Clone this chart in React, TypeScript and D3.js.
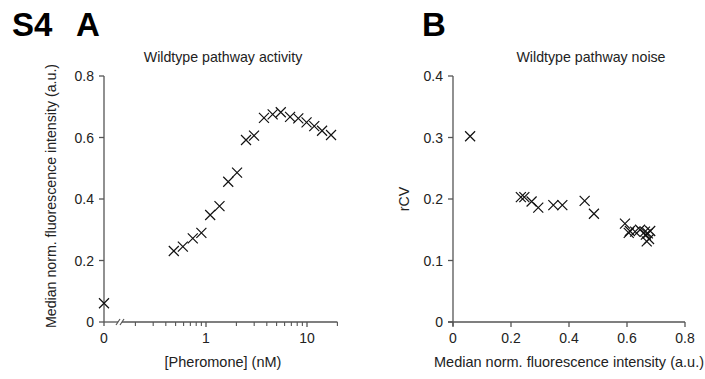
import React from "react";
import * as d3 from "d3";

// Panel A: wildtype pathway activity vs pheromone concentration
const zeroDoseActivity = 0.061;
const pheromoneNM = [0.48, 0.59, 0.74, 0.9, 1.1, 1.36, 1.66, 2.03, 2.49, 2.99, 3.75, 4.57, 5.5, 6.8, 8.2, 9.9, 11.8, 14.1, 17.3];
const activity = [0.231, 0.245, 0.272, 0.29, 0.348, 0.377, 0.456, 0.486, 0.592, 0.606, 0.664, 0.675, 0.682, 0.667, 0.662, 0.649, 0.637, 0.622, 0.608];
const yTicksA = [0, 0.2, 0.4, 0.6, 0.8];
const xMajorA = [1, 10];
const xMinorA = [0.2, 0.3, 0.4, 0.5, 0.6, 0.7, 0.8, 0.9, 2, 3, 4, 5, 6, 7, 8, 9, 20];

// Panel B: noise (rCV) vs activity
const activityB = [0.059, 0.234, 0.246, 0.271, 0.294, 0.346, 0.377, 0.454, 0.486, 0.593, 0.606, 0.61, 0.628, 0.645, 0.662, 0.665, 0.668, 0.672, 0.676, 0.68];
const rcvB = [0.302, 0.203, 0.203, 0.196, 0.186, 0.19, 0.19, 0.197, 0.176, 0.16, 0.145, 0.148, 0.147, 0.15, 0.147, 0.142, 0.131, 0.144, 0.135, 0.148];
const yTicksB = [0, 0.1, 0.2, 0.3, 0.4];
const xTicksB = [0, 0.2, 0.4, 0.6, 0.8];

const FONT = "'Liberation Sans', Arial, sans-serif";
const AXIS = "#555";
const TEXT = "#222";

function Cross({ x, y }: { x: number; y: number }) {
  const s = 5;
  return (
    <path
      d={`M${x - s},${y - s}L${x + s},${y + s}M${x - s},${y + s}L${x + s},${y - s}`}
      stroke="#111"
      strokeWidth={1.2}
      fill="none"
    />
  );
}

export default function App() {
  // Panel A scales
  const yA = d3.scaleLinear().domain([0, 0.8]).range([322, 76]);
  const xLog = d3.scaleLog().domain([1, 10]).range([206, 307]);
  const x0A = 104;
  const xEndA = xLog(20);
  const breakX = 120;

  // Panel B scales
  const xB = d3.scaleLinear().domain([0, 0.8]).range([453, 685]);
  const yB = d3.scaleLinear().domain([0, 0.4]).range([322, 76]);

  return (
    <svg
      width={705}
      height={379}
      style={{ position: "absolute", left: 0, top: 0, background: "#fff" }}
      fontFamily={FONT}
    >
      <rect width={705} height={379} fill="#fff" />
      {/* Panel labels */}
      <text x={12} y={36} fontSize={33} fontWeight="bold" fill="#000">S4</text>
      <text x={76} y={36} fontSize={33} fontWeight="bold" fill="#000">A</text>
      <text x={422} y={36} fontSize={33} fontWeight="bold" fill="#000">B</text>

      {/* ===== Panel A ===== */}
      <text x={223} y={62} fontSize={14.2} textAnchor="middle" fill={TEXT}>Wildtype pathway activity</text>
      {/* y axis */}
      <line x1={x0A} x2={x0A} y1={yA(0.8)} y2={yA(0) + 4} stroke={AXIS} strokeWidth={1.3} />
      {yTicksA.map((t) => (
        <g key={"ya" + t}>
          <line x1={x0A - 5} x2={x0A} y1={yA(t)} y2={yA(t)} stroke={AXIS} strokeWidth={1.3} />
          <text x={x0A - 10} y={yA(t) + 5} fontSize={14} textAnchor="end" fill={TEXT}>{t === 0 ? "0" : t.toFixed(1)}</text>
        </g>
      ))}
      <text
        transform={`translate(56,${(yA(0) + yA(0.8)) / 2 - 3}) rotate(-90)`}
        fontSize={14.2}
        textAnchor="middle"
        fill={TEXT}
      >
        Median norm. fluorescence intensity (a.u.)
      </text>
      {/* x axis with break */}
      <line x1={x0A} x2={breakX - 2} y1={yA(0)} y2={yA(0)} stroke={AXIS} strokeWidth={1.3} />
      <line x1={breakX + 2} x2={xEndA} y1={yA(0)} y2={yA(0)} stroke={AXIS} strokeWidth={1.3} />
      <line x1={breakX - 4} x2={breakX} y1={yA(0) + 3} y2={yA(0) - 3} stroke={AXIS} strokeWidth={1.2} />
      <line x1={breakX} x2={breakX + 4} y1={yA(0) + 3} y2={yA(0) - 3} stroke={AXIS} strokeWidth={1.2} />
      {xMajorA.map((t) => (
        <g key={"xa" + t}>
          <line x1={xLog(t)} x2={xLog(t)} y1={yA(0)} y2={yA(0) + 5} stroke={AXIS} strokeWidth={1.3} />
          <text x={xLog(t)} y={343} fontSize={14} textAnchor="middle" fill={TEXT}>{t}</text>
        </g>
      ))}
      {xMinorA.map((t) => (
        <line key={"xm" + t} x1={xLog(t)} x2={xLog(t)} y1={yA(0)} y2={yA(0) + 4} stroke={AXIS} strokeWidth={1.1} />
      ))}
      <text x={x0A} y={343} fontSize={14} textAnchor="middle" fill={TEXT}>0</text>
      <text x={223} y={367} fontSize={14.5} textAnchor="middle" fill={TEXT}>[Pheromone] (nM)</text>
      <Cross x={x0A} y={yA(zeroDoseActivity)} />
      {pheromoneNM.map((c, i) => (
        <Cross key={"a" + i} x={xLog(c)} y={yA(activity[i])} />
      ))}

      {/* ===== Panel B ===== */}
      <text x={591} y={62} fontSize={14.2} textAnchor="middle" fill={TEXT}>Wildtype pathway noise</text>
      <line x1={xB(0)} x2={xB(0)} y1={yB(0.4)} y2={yB(0) + 4} stroke={AXIS} strokeWidth={1.3} />
      {yTicksB.map((t) => (
        <g key={"yb" + t}>
          <line x1={xB(0) - 5} x2={xB(0)} y1={yB(t)} y2={yB(t)} stroke={AXIS} strokeWidth={1.3} />
          <text x={xB(0) - 10} y={yB(t) + 5} fontSize={14} textAnchor="end" fill={TEXT}>{t === 0 ? "0" : t.toFixed(1)}</text>
        </g>
      ))}
      <text
        transform={`translate(409,${(yB(0) + yB(0.4)) / 2}) rotate(-90)`}
        fontSize={14.2}
        textAnchor="middle"
        fill={TEXT}
      >
        rCV
      </text>
      <line x1={xB(0) - 5} x2={xB(0.8)} y1={yB(0)} y2={yB(0)} stroke={AXIS} strokeWidth={1.3} />
      {xTicksB.map((t) => (
        <g key={"xb" + t}>
          <line x1={xB(t)} x2={xB(t)} y1={yB(0)} y2={yB(0) + 5} stroke={AXIS} strokeWidth={1.3} />
          <text x={xB(t)} y={343} fontSize={14} textAnchor="middle" fill={TEXT}>{t === 0 ? "0" : t.toFixed(1)}</text>
        </g>
      ))}
      <text x={569} y={367} fontSize={14.5} textAnchor="middle" fill={TEXT}>Median norm. fluorescence intensity (a.u.)</text>
      {activityB.map((a, i) => (
        <Cross key={"b" + i} x={xB(a)} y={yB(rcvB[i])} />
      ))}
    </svg>
  );
}
